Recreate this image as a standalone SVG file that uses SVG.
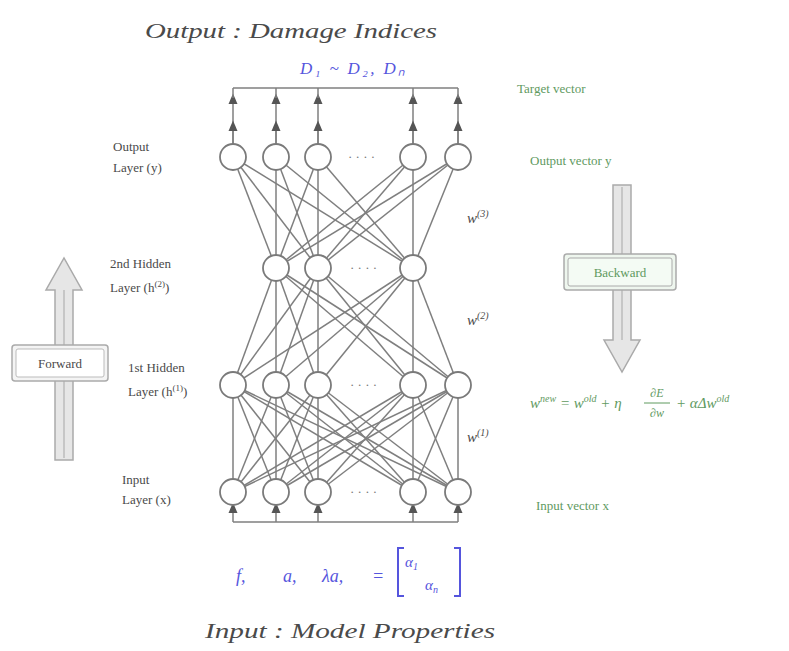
<svg xmlns="http://www.w3.org/2000/svg" width="789" height="651" viewBox="0 0 789 651">
<style>
.n{fill:#fff;stroke:#7a7a7a;stroke-width:1.8}
.c line{stroke:#7f7f7f;stroke-width:1.5}
.t{font-family:"Liberation Serif",serif;fill:#4a4a4a}
.it{font-style:italic}
.g{font-family:"Liberation Serif",serif;fill:#5f9a5f}
.b{font-family:"Liberation Serif",serif;fill:#5555dd;font-style:italic}
.dots{font-family:"Liberation Serif",serif;fill:#777;font-size:13px}
.bar{stroke:#888;stroke-width:2}
</style>
<defs>
<marker id="ah" markerWidth="8" markerHeight="8" refX="4" refY="4" orient="auto"><path d="M0,1 L7,4 L0,7 z" fill="#555"/></marker>
</defs>
<rect width="789" height="651" fill="#fff"/>
<text class="t it" x="145" y="38" font-size="22" textLength="292" lengthAdjust="spacingAndGlyphs">Output : Damage Indices</text>
<text class="b" x="300" y="74" font-size="17" textLength="105">D₁ ~ D₂, Dₙ</text>
<g class="c" id="connectors">
<line x1="233" y1="88" x2="458" y2="88" class="bar"/>
<line x1="233" y1="144" x2="233" y2="98" marker-end="url(#ah)"/><line x1="233" y1="144" x2="233" y2="125" marker-end="url(#ah)"/><line x1="233" y1="98" x2="233" y2="88"/>
<line x1="276" y1="144" x2="276" y2="98" marker-end="url(#ah)"/><line x1="276" y1="144" x2="276" y2="125" marker-end="url(#ah)"/><line x1="276" y1="98" x2="276" y2="88"/>
<line x1="318" y1="144" x2="318" y2="98" marker-end="url(#ah)"/><line x1="318" y1="144" x2="318" y2="125" marker-end="url(#ah)"/><line x1="318" y1="98" x2="318" y2="88"/>
<line x1="413" y1="144" x2="413" y2="98" marker-end="url(#ah)"/><line x1="413" y1="144" x2="413" y2="125" marker-end="url(#ah)"/><line x1="413" y1="98" x2="413" y2="88"/>
<line x1="458" y1="144" x2="458" y2="98" marker-end="url(#ah)"/><line x1="458" y1="144" x2="458" y2="125" marker-end="url(#ah)"/><line x1="458" y1="98" x2="458" y2="88"/>
<line x1="233" y1="157" x2="276" y2="268"/><line x1="233" y1="157" x2="318" y2="268"/><line x1="233" y1="157" x2="413" y2="268"/>
<line x1="276" y1="157" x2="276" y2="268"/><line x1="276" y1="157" x2="318" y2="268"/><line x1="276" y1="157" x2="413" y2="268"/>
<line x1="318" y1="157" x2="276" y2="268"/><line x1="318" y1="157" x2="318" y2="268"/><line x1="318" y1="157" x2="413" y2="268"/>
<line x1="413" y1="157" x2="276" y2="268"/><line x1="413" y1="157" x2="318" y2="268"/><line x1="413" y1="157" x2="413" y2="268"/>
<line x1="458" y1="157" x2="276" y2="268"/><line x1="458" y1="157" x2="318" y2="268"/><line x1="458" y1="157" x2="413" y2="268"/>
<line x1="276" y1="268" x2="233" y2="385"/><line x1="276" y1="268" x2="276" y2="385"/><line x1="276" y1="268" x2="318" y2="385"/><line x1="276" y1="268" x2="413" y2="385"/><line x1="276" y1="268" x2="458" y2="385"/>
<line x1="318" y1="268" x2="233" y2="385"/><line x1="318" y1="268" x2="276" y2="385"/><line x1="318" y1="268" x2="318" y2="385"/><line x1="318" y1="268" x2="413" y2="385"/><line x1="318" y1="268" x2="458" y2="385"/>
<line x1="413" y1="268" x2="233" y2="385"/><line x1="413" y1="268" x2="276" y2="385"/><line x1="413" y1="268" x2="318" y2="385"/><line x1="413" y1="268" x2="413" y2="385"/><line x1="413" y1="268" x2="458" y2="385"/>
<line x1="233" y1="385" x2="233" y2="492"/><line x1="233" y1="385" x2="276" y2="492"/><line x1="233" y1="385" x2="318" y2="492"/><line x1="233" y1="385" x2="413" y2="492"/><line x1="233" y1="385" x2="458" y2="492"/>
<line x1="276" y1="385" x2="233" y2="492"/><line x1="276" y1="385" x2="276" y2="492"/><line x1="276" y1="385" x2="318" y2="492"/><line x1="276" y1="385" x2="413" y2="492"/><line x1="276" y1="385" x2="458" y2="492"/>
<line x1="318" y1="385" x2="233" y2="492"/><line x1="318" y1="385" x2="276" y2="492"/><line x1="318" y1="385" x2="318" y2="492"/><line x1="318" y1="385" x2="413" y2="492"/><line x1="318" y1="385" x2="458" y2="492"/>
<line x1="413" y1="385" x2="233" y2="492"/><line x1="413" y1="385" x2="276" y2="492"/><line x1="413" y1="385" x2="318" y2="492"/><line x1="413" y1="385" x2="413" y2="492"/><line x1="413" y1="385" x2="458" y2="492"/>
<line x1="458" y1="385" x2="233" y2="492"/><line x1="458" y1="385" x2="276" y2="492"/><line x1="458" y1="385" x2="318" y2="492"/><line x1="458" y1="385" x2="413" y2="492"/><line x1="458" y1="385" x2="458" y2="492"/>
<line x1="233" y1="522" x2="458" y2="522" class="bar"/>
<line x1="233" y1="522" x2="233" y2="507" marker-end="url(#ah)"/>
<line x1="276" y1="522" x2="276" y2="507" marker-end="url(#ah)"/>
<line x1="318" y1="522" x2="318" y2="507" marker-end="url(#ah)"/>
<line x1="413" y1="522" x2="413" y2="507" marker-end="url(#ah)"/>
<line x1="458" y1="522" x2="458" y2="507" marker-end="url(#ah)"/>
</g>
<g id="output-layer">
<circle class="n" cx="233" cy="157" r="13"/><circle class="n" cx="276" cy="157" r="13"/><circle class="n" cx="318" cy="157" r="13"/>
<text class="dots" x="348" y="161">· · · ·</text>
<circle class="n" cx="413" cy="157" r="13"/><circle class="n" cx="458" cy="157" r="13"/>
</g>
<g id="hidden2-layer">
<circle class="n" cx="276" cy="268" r="13"/><circle class="n" cx="318" cy="268" r="13"/>
<ellipse cx="365" cy="268" rx="30" ry="14" fill="#fff" stroke="none"/>
<text class="dots" x="350" y="272">· · · ·</text>
<circle class="n" cx="413" cy="268" r="13"/>
</g>
<g id="hidden1-layer">
<circle class="n" cx="233" cy="385" r="13"/><circle class="n" cx="276" cy="385" r="13"/><circle class="n" cx="318" cy="385" r="13"/>
<ellipse cx="365" cy="385" rx="30" ry="14" fill="#fff" stroke="none"/>
<text class="dots" x="350" y="389">· · · ·</text>
<circle class="n" cx="413" cy="385" r="13"/><circle class="n" cx="458" cy="385" r="13"/>
</g>
<g id="input-layer">
<circle class="n" cx="233" cy="492" r="13"/><circle class="n" cx="276" cy="492" r="13"/><circle class="n" cx="318" cy="492" r="13"/>
<ellipse cx="365" cy="492" rx="30" ry="12" fill="#fff" stroke="none"/>
<text class="dots" x="350" y="496">· · · ·</text>
<circle class="n" cx="413" cy="492" r="13"/><circle class="n" cx="458" cy="492" r="13"/>
</g>
<g id="layer-labels" class="t" font-size="13">
<text x="113" y="151">Output</text><text x="113" y="172">Layer (y)</text>
<text x="110" y="268">2nd Hidden</text><text x="110" y="292">Layer (h<tspan font-size="9" dy="-5">(2)</tspan><tspan dy="5">)</tspan></text>
<text x="128" y="372">1st Hidden</text><text x="128" y="396">Layer (h<tspan font-size="9" dy="-5">(1)</tspan><tspan dy="5">)</tspan></text>
<text x="122" y="484">Input</text><text x="122" y="504">Layer (x)</text>
</g>
<g id="weights" class="t it" font-size="15">
<text x="467" y="223">w<tspan font-size="10" dy="-6">(3)</tspan></text>
<text x="467" y="325">w<tspan font-size="10" dy="-6">(2)</tspan></text>
<text x="467" y="442">w<tspan font-size="10" dy="-6">(1)</tspan></text>
</g>
<g id="forward">
<path d="M55,460 L55,290 L46,290 L64,258 L82,290 L73,290 L73,460 Z" fill="#e6e6e6" stroke="#aaa" stroke-width="1.5"/>
<line x1="64" y1="290" x2="64" y2="458" stroke="#bbb" stroke-width="1.5"/>
<rect x="12" y="345" width="96" height="36" rx="3" fill="#f4f4f4" stroke="#aaa" stroke-width="1.5"/>
<rect x="16" y="349" width="88" height="28" rx="2" fill="#fff" stroke="#bbb" stroke-width="1"/>
<text class="t" x="60" y="368" font-size="13" text-anchor="middle">Forward</text>
</g>
<g id="backward">
<path d="M613,185 L613,340 L604,340 L622,372 L640,340 L631,340 L631,185 Z" fill="#e6e6e6" stroke="#aaa" stroke-width="1.5"/>
<line x1="622" y1="187" x2="622" y2="340" stroke="#bbb" stroke-width="1.5"/>
<rect x="564" y="254" width="112" height="36" rx="3" fill="#eef6ee" stroke="#aaa" stroke-width="1.5"/>
<rect x="568" y="258" width="104" height="28" rx="2" fill="#f4fbf4" stroke="#aaa" stroke-width="1"/>
<text class="g" x="620" y="277" font-size="13" text-anchor="middle">Backward</text>
</g>
<g id="right-labels">
<text class="g" x="517" y="93" font-size="13">Target vector</text>
<text class="g" x="530" y="165" font-size="13">Output vector y</text>
<text class="g it" x="530" y="408" font-size="15">w<tspan font-size="10" dy="-6">new</tspan><tspan dy="6"> = w</tspan><tspan font-size="10" dy="-6">old</tspan><tspan dy="6"> + η</tspan></text>
<text class="g it" x="657" y="397" font-size="12" text-anchor="middle">∂E</text>
<line x1="644" y1="403" x2="670" y2="403" stroke="#5f9a5f" stroke-width="1"/>
<text class="g it" x="657" y="417" font-size="12" text-anchor="middle">∂w</text>
<text class="g it" x="676" y="408" font-size="15">+ αΔw<tspan font-size="10" dy="-6">old</tspan></text>
<text class="g" x="536" y="510" font-size="13">Input vector x</text>
</g>
<g id="input-props">
<text class="b" x="236" y="582" font-size="18">f,</text>
<text class="b" x="283" y="582" font-size="18">a,</text>
<text class="b" x="322" y="582" font-size="18">λa,</text>
<text class="b" x="372" y="582" font-size="18" font-style="normal">=</text>
<path d="M404,548 L398,548 L398,596 L404,596 M454,548 L460,548 L460,596 L454,596" fill="none" stroke="#5555dd" stroke-width="2"/>
<text class="b" x="405" y="567" font-size="15">α<tspan font-size="10" dy="3">1</tspan></text>
<text class="b" x="425" y="590" font-size="15">α<tspan font-size="10" dy="3">n</tspan></text>
<text class="t it" x="205" y="638" font-size="22" textLength="290" lengthAdjust="spacingAndGlyphs">Input : Model Properties</text>
</g>
</svg>
